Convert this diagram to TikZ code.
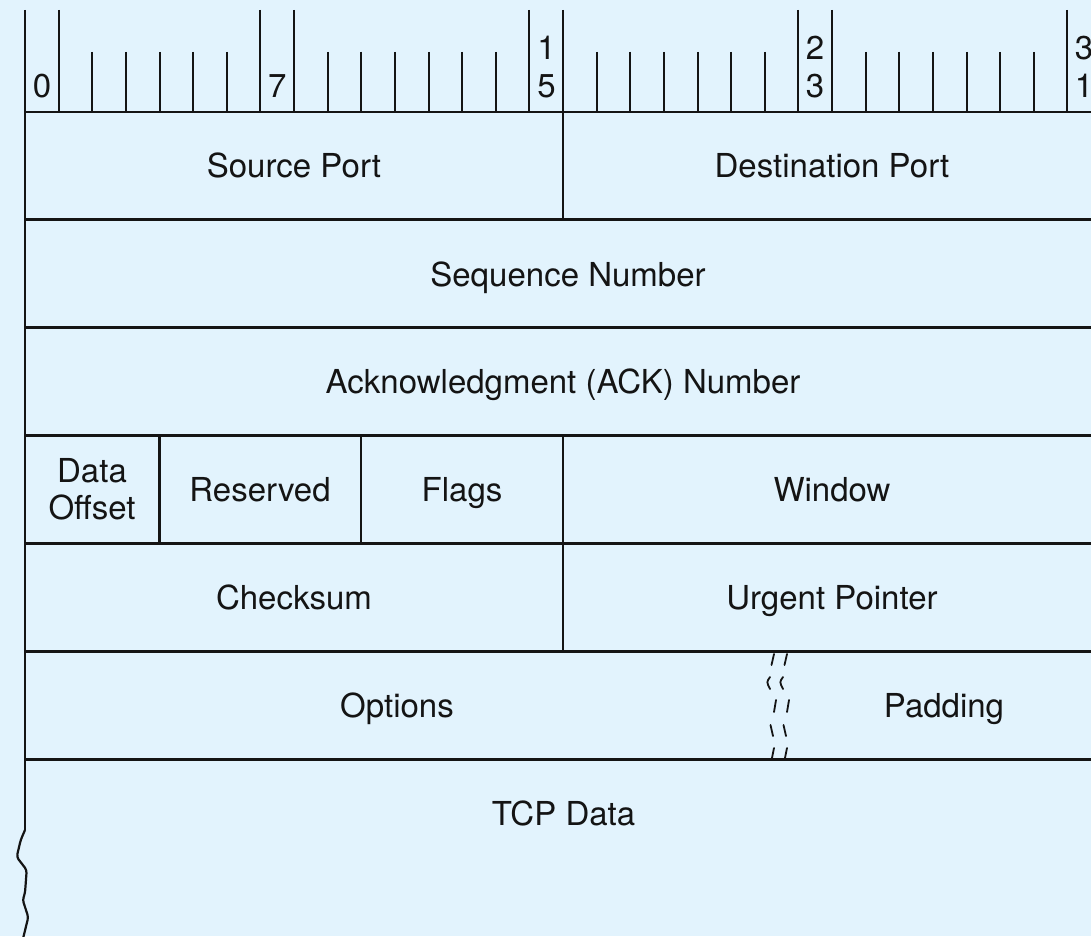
\documentclass[tikz,border=0pt]{standalone}
\usepackage{fontspec}
\setmainfont{TeX Gyre Heros}
\definecolor{sheet}{RGB}{226,243,253}
\definecolor{ink}{RGB}{20,20,20}
\begin{document}
\begin{tikzpicture}[x=1pt,y=-1pt,
  rule/.style={draw=ink,line width=2.2pt},
  tick/.style={draw=ink,line width=2pt},
  brk/.style={draw=ink,line width=1.8pt,line cap=round},
  lbl/.style={font=\fontsize{33}{37.5}\selectfont,text=ink,inner sep=0pt,anchor=base},
  twoline/.style={font=\fontsize{33}{37.5}\selectfont,text=ink,inner sep=0pt,align=center,anchor=center}]
\useasboundingbox (0,0) rectangle (1091,936);
\clip (0,0) rectangle (1091,936);
\fill[sheet] (0,0) rectangle (1091,936);

% bit ruler: long ticks around the numbered bits, short ticks elsewhere
\foreach \i in {1,7,8,15,16,23,24,31,32}
  \draw[tick] ({25+\i*33.625},10) -- ({25+\i*33.625},112);
\foreach \j in {0,8,16,24}
  \foreach \k in {2,...,6}
    \draw[tick] ({25+(\j+\k)*33.625},52) -- ({25+(\j+\k)*33.625},112);
\foreach \j in {7,15,23}
  \foreach \k in {2,3}
    \draw[tick] ({25+(\j+\k)*33.625},52) -- ({25+(\j+\k)*33.625},112);
\node[lbl] (b0)  at (42,98) {0};
\node[lbl] (b7)  at (277.2,98) {7};
\node[lbl] (b15a) at (546.6,60) {1};
\node[lbl] (b15b) at (546.6,98) {5};
\node[lbl] (b23a) at (815.1,60) {2};
\node[lbl] (b23b) at (815.1,98) {3};
\node[lbl] (b31a) at (1084,60) {3};
\node[lbl] (b31b) at (1084,98) {1};

% left edge, torn at the bottom
\draw[rule] (25,10) -- (25,830);
\draw[rule,rounded corners=3pt] (25,830) -- (20.7,840) -- (16.7,857) -- (26.7,870)
  -- (25,893) -- (22.7,900) -- (28.3,917) -- (22.7,940);

% row separators
\foreach \y in {112,219.5,327.5,435.5,543.5,651.5,759.5}
  \draw[rule] (25,\y) -- (1091,\y);

% field dividers
\draw[rule] (563,112) -- (563,219.5);
\draw[rule] (159.5,435.5) -- (159.5,543.5);
\draw[rule] (361,435.5) -- (361,543.5);
\draw[rule] (563,435.5) -- (563,651.5);

% broken boundary between Options and Padding
\foreach \dx in {0,13} {
  \begin{scope}[xshift=\dx]
    \draw[brk] (774,654) -- (771.5,665);
    \draw[brk] (770,677) .. controls (766.5,682) .. (770,689);
    \draw[brk] (776,700) -- (774,712);
    \draw[brk] (770.5,725) -- (773,736);
    \draw[brk] (774,748) -- (772,758);
  \end{scope}
}

% field names
\node[lbl] (src)  at (294,177.5) {Source Port};
\node[lbl] (dst)  at (832,177.5) {Destination Port};
\node[lbl] (seq)  at (568,286) {Sequence Number};
\node[lbl] (ack)  at (563,393.3) {Acknowledgment (ACK) Number};
\node[twoline] (doff) at (92,489.5) {Data\\Offset};
\node[lbl] (resv) at (260,501.5) {Reserved};
\node[lbl] (flags) at (462,501.5) {Flags};
\node[lbl] (win)  at (832,501.5) {Window};
\node[lbl] (csum) at (294,609.3) {Checksum};
\node[lbl] (urg)  at (832,609.3) {Urgent Pointer};
\node[lbl] (opt)  at (397,717.3) {Options};
\node[lbl] (pad)  at (944,717.3) {Padding};
\node[lbl] (data) at (563.5,825) {TCP Data};
\end{tikzpicture}
\end{document}
